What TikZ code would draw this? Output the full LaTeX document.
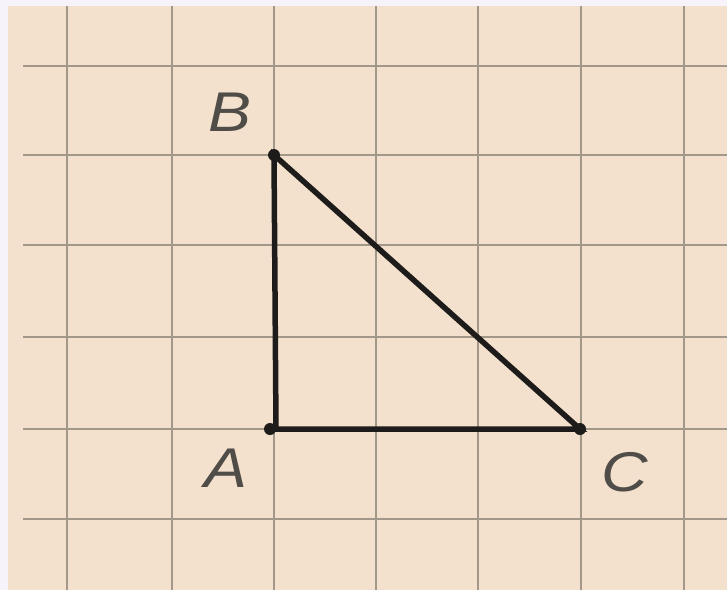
\documentclass[tikz,border=0pt]{standalone}
\usepackage{fontspec}
\setmainfont{Liberation Sans}
\definecolor{paper}{RGB}{243,225,206}
\definecolor{margin}{RGB}{246,244,250}
\definecolor{gridc}{RGB}{162,152,138}
\definecolor{ink}{RGB}{30,28,26}
\definecolor{labelc}{RGB}{80,77,73}
\tikzset{
  gridline/.style={draw=gridc,line width=2.8pt},
  side/.style={draw=ink,line width=5.5pt,line cap=round},
  vertexdot/.style={circle,fill=ink,inner sep=0pt,minimum size=12pt},
  lab/.style={text=labelc,font=\fontsize{56}{56}\selectfont\itshape,inner sep=0pt,xscale=1.15}
}
\begin{document}
\begin{tikzpicture}[x=1pt,y=-1pt]
\useasboundingbox (0,0) rectangle (727,590);
\fill[margin] (0,0) rectangle (727,590);
\fill[paper] (8,6) rectangle (727,590);
% grid
\foreach \x in {67,172,274,376,478,581,684} \draw[gridline] (\x,6) -- (\x,590);
\foreach \y in {66,155,245,337,429,519} \draw[gridline] (23,\y) -- (727,\y);
% vertices
\coordinate (A) at (276,429);
\coordinate (B) at (274,155);
\coordinate (C) at (580,429);
\draw[side] (B) -- (A) -- (C) -- cycle;
\node[vertexdot] (dA) at (270,429) {};
\node[vertexdot] (dB) at (B) {};
\node[vertexdot] (dC) at (C) {};
% labels
\node[lab] (lB) at (230,112) {B};
\node[lab] (lA) at (226,468) {A};
\node[lab] (lC) at (625,472) {C};
\end{tikzpicture}
\end{document}
